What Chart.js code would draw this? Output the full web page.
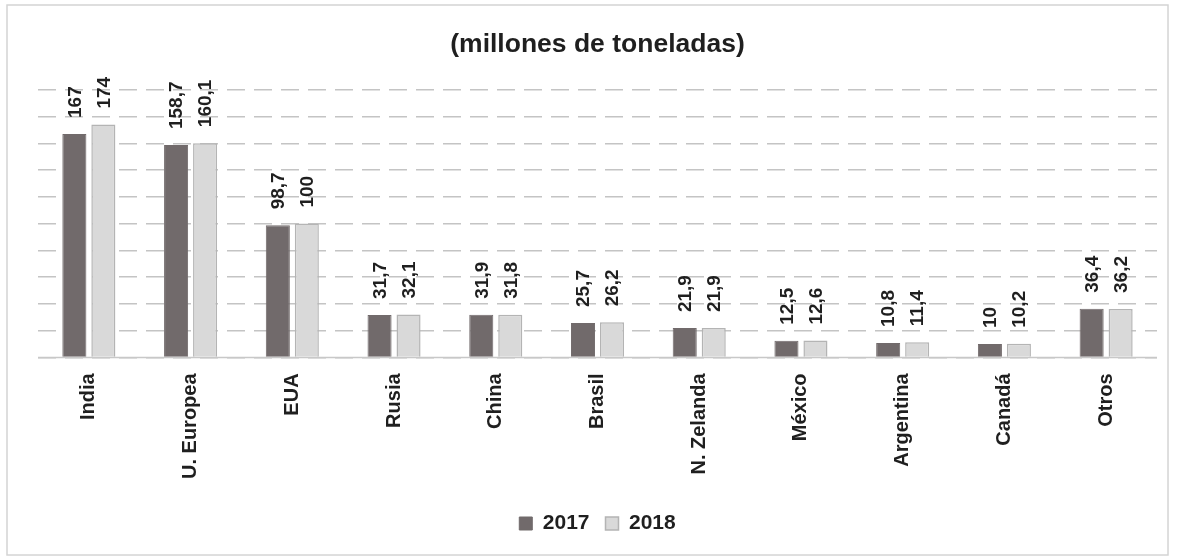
<!DOCTYPE html>
<html lang="es">
<head>
<meta charset="utf-8">
<title>Producción de leche (millones de toneladas)</title>
<script src="https://cdn.jsdelivr.net/npm/chart.js@4.4.1/dist/chart.umd.min.js"></script>
<style>
    html, body { margin: 0; padding: 0; background: #fff; }
    #wrap { position: relative; width: 1177px; height: 558px; }
</style>
</head>
<body>
<div id="wrap"><canvas id="milkChart" width="1177" height="558"></canvas></div>
<script>
// ── Data ────────────────────────────────────────────────────────────────
const categories = ['India', 'U. Europea', 'EUA', 'Rusia', 'China', 'Brasil',
    'N. Zelanda', 'México', 'Argentina', 'Canadá', 'Otros'];
const values2017 = [167, 158.7, 98.7, 31.7, 31.9, 25.7, 21.9, 12.5, 10.8, 10, 36.4];
const values2018 = [174, 160.1, 100, 32.1, 31.8, 26.2, 21.9, 12.6, 11.4, 10.2, 36.2];
const seriesLabels = ['2017', '2018'];

const FONT = "'Liberation Sans', Arial, sans-serif";
const TEXT = '#1f1f1f';

// comma as decimal separator, like the source
const fmt = v => String(v).replace('.', ',');

// ── Plugins ─────────────────────────────────────────────────────────────
const frame = {
    id: 'frame',
    beforeDraw(chart) {
        const c = chart.ctx;
        c.save();
        c.fillStyle = '#fff';
        c.fillRect(0, 0, chart.width, chart.height);
        c.strokeStyle = '#d4d4d4';
        c.lineWidth = 1.5;
        c.strokeRect(7, 5, 1161, 550);
        c.restore();
    }
};

const baseline = {
    id: 'baseline',
    beforeDatasetsDraw(chart) {
        const { ctx, chartArea } = chart;
        const y = chart.scales.y.getPixelForValue(0);
        ctx.save();
        ctx.strokeStyle = '#c8c8c8';
        ctx.lineWidth = 1.5;
        ctx.beginPath();
        ctx.moveTo(chartArea.left, y);
        ctx.lineTo(chartArea.right, y);
        ctx.stroke();
        ctx.restore();
    }
};

const valueLabels = {
    id: 'valueLabels',
    afterDatasetsDraw(chart) {
        const c = chart.ctx;
        c.save();
        c.font = 'bold 19px ' + FONT;
        c.fillStyle = TEXT;
        c.textAlign = 'left';
        c.textBaseline = 'middle';
        chart.data.datasets.forEach((ds, di) => {
            chart.getDatasetMeta(di).data.forEach((bar, i) => {
                c.save();
                c.translate(bar.x + 1, bar.y - 16);
                c.rotate(-Math.PI / 2);
                c.fillText(fmt(ds.data[i]), 0, 0);
                c.restore();
            });
        });
        c.restore();
    }
};

// ── Chart ───────────────────────────────────────────────────────────────
new Chart(document.getElementById('milkChart'), {
    type: 'bar',
    data: {
        labels: categories,
        datasets: [
            {
                label: seriesLabels[0],
                data: values2017,
                backgroundColor: '#716a6b',
                borderColor: '#716a6b',
                borderWidth: 1,
                categoryPercentage: 0.57,
                barPercentage: 0.83
            },
            {
                label: seriesLabels[1],
                data: values2018,
                backgroundColor: '#d9d9d9',
                borderColor: '#b4b4b4',
                borderWidth: 1.5,
                categoryPercentage: 0.57,
                barPercentage: 0.83
            }
        ]
    },
    options: {
        responsive: false,
        animation: false,
        layout: { padding: { left: 38, right: 20, top: 0, bottom: 14 } },
        plugins: {
            title: {
                display: true,
                text: '(millones de toneladas)',
                color: TEXT,
                font: { family: FONT, size: 26.5, weight: 'bold' },
                padding: { top: 29, bottom: 29 }
            },
            legend: {
                position: 'bottom',
                labels: {
                    color: TEXT,
                    font: { family: FONT, size: 21, weight: 'bold' },
                    boxWidth: 13,
                    boxHeight: 13,
                    padding: 16
                }
            },
            tooltip: { enabled: false }
        },
        scales: {
            x: {
                grid: { display: false },
                border: { display: false },
                ticks: {
                    color: TEXT,
                    font: { family: FONT, size: 20, weight: 'bold' },
                    minRotation: 90,
                    maxRotation: 90,
                    padding: 8
                },
                // leave room between the long labels and the legend
                afterFit(axis) { axis.height += 10; }
            },
            y: {
                min: 0,
                max: 200,
                ticks: { stepSize: 20, display: false },
                border: { display: false, dash: [18, 9] },
                grid: { color: '#c4c4c4', lineWidth: 1.5, drawTicks: false }
            }
        }
    },
    plugins: [frame, baseline, valueLabels]
});
</script>
</body>
</html>
